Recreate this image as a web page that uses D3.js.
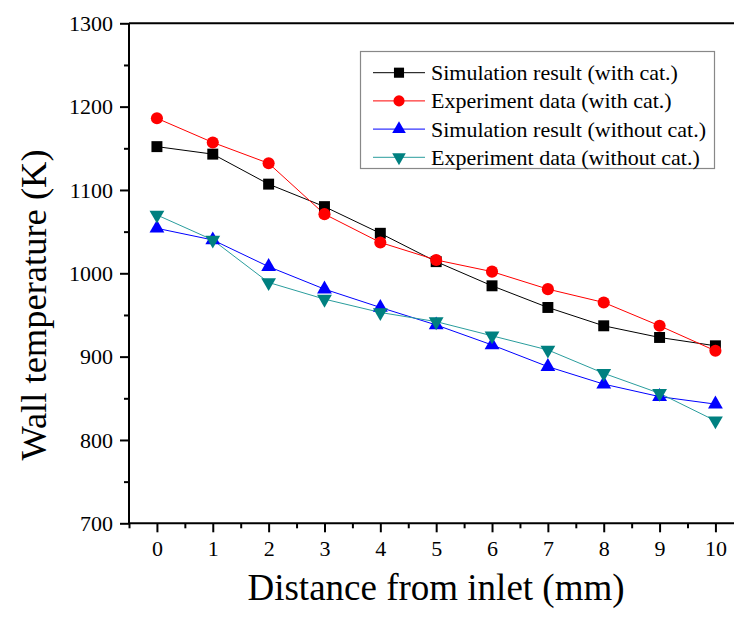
<!DOCTYPE html>
<html>
<head>
<meta charset="utf-8">
<script src="https://cdn.jsdelivr.net/npm/d3@7"></script>
<style>
  html, body { margin: 0; padding: 0; background: #fff; }
  svg { display: block; }
  svg text { font-family: "Liberation Serif", "Times New Roman", serif; fill: #000; }
</style>
</head>
<body>
<svg id="chart" width="734" height="619"></svg>
<script>
// Distance from inlet (mm)
const distances = [0, 1, 2, 3, 4, 5, 6, 7, 8, 9, 10];

// Wall temperature (K) for each series
const simWithCat    = [1152, 1143, 1107, 1080, 1048, 1014, 985, 959, 937, 923, 913];
const expWithCat    = [1186, 1157, 1132, 1071, 1037, 1016, 1002, 981, 965, 937, 907];
const simWithoutCat = [1054, 1040, 1008, 981, 959, 938, 914, 888, 867, 852, 843];
const expWithoutCat = [1070, 1040, 989, 969, 953, 942, 925, 908, 880, 856, 823];

const seriesNames = [
  "Simulation result (with cat.)",
  "Experiment data (with cat.)",
  "Simulation result (without cat.)",
  "Experiment data (without cat.)"
];

const yTicks = [700, 800, 900, 1000, 1100, 1200, 1300];
const yMinorTicks = [750, 850, 950, 1050, 1150, 1250];
const xMinorTicks = [-0.5, 0.5, 1.5, 2.5, 3.5, 4.5, 5.5, 6.5, 7.5, 8.5, 9.5, 10.5];

const series = [
  { name: seriesNames[0], values: simWithCat,    color: "#000000", line: "#000000", symbol: d3.symbolSquare,   size: 120 },
  { name: seriesNames[1], values: expWithCat,    color: "#ff0000", line: "#ff0000", symbol: d3.symbolCircle,   size: 115 },
  { name: seriesNames[2], values: simWithoutCat, color: "#0000ff", line: "#0000ff", symbol: d3.symbolTriangle, size: 95 },
  { name: seriesNames[3], values: expWithoutCat, color: "#008080", line: "#2a9d9d", symbol: d3.symbolTriangle, size: 95, flip: true }
];

const svg = d3.select("#chart");
const plotLeft = 129, plotTop = 23.3, plotBottom = 523.3;
const unit = 55.85;

const x = d3.scaleLinear().domain([-0.5, 10.5]).range([plotLeft, plotLeft + 11 * unit]);
const y = d3.scaleLinear().domain([700, 1300]).range([plotBottom, plotTop]);

// frame (top and right edges)
svg.append("path")
  .attr("d", `M${x(-0.5)},${y(1300)}H${x(10.5)}V${y(700)}`)
  .attr("fill", "none").attr("stroke", "#000").attr("stroke-width", 2);

// x axis
const xAxis = d3.axisBottom(x).tickValues(distances).tickSize(9).tickPadding(8).tickFormat(d3.format("d"));
const gx = svg.append("g").attr("transform", `translate(0,${plotBottom})`).call(xAxis);
gx.attr("font-family", null).attr("font-size", null);
gx.selectAll(".tick line").attr("stroke-width", 2);
gx.select(".domain").attr("stroke-width", 2).attr("d", `M${x(-0.5)},0H${x(10.5)}`);
gx.selectAll(".tick text").style("font-size", "22px");
svg.append("g").attr("transform", `translate(0,${plotBottom})`)
  .call(d3.axisBottom(x).tickValues(xMinorTicks).tickSize(5).tickFormat(""))
  .call(g => g.select(".domain").remove())
  .selectAll("line").attr("stroke-width", 2);

// y axis
const yAxis = d3.axisLeft(y).tickValues(yTicks).tickSize(9).tickPadding(7).tickFormat(d3.format("d"));
const gy = svg.append("g").attr("transform", `translate(${plotLeft},0)`).call(yAxis);
gy.attr("font-family", null).attr("font-size", null);
gy.selectAll(".tick line").attr("stroke-width", 2);
gy.select(".domain").attr("stroke-width", 2).attr("d", `M0,${plotBottom}V${plotTop}`);
gy.selectAll(".tick text").style("font-size", "22px");
svg.append("g").attr("transform", `translate(${plotLeft},0)`)
  .call(d3.axisLeft(y).tickValues(yMinorTicks).tickSize(5).tickFormat(""))
  .call(g => g.select(".domain").remove())
  .selectAll("line").attr("stroke-width", 2);

// axis titles
svg.append("text")
  .attr("x", 436).attr("y", 600)
  .attr("text-anchor", "middle")
  .style("font-size", "37px")
  .text("Distance from inlet (mm)");

svg.append("text")
  .attr("transform", `translate(46,305) rotate(-90)`)
  .attr("text-anchor", "middle")
  .style("font-size", "36.5px")
  .text("Wall temperature (K)");

// series lines and markers
const line = d3.line().x((d, i) => x(distances[i])).y(d => y(d));
series.forEach(s => {
  svg.append("path")
    .datum(s.values)
    .attr("d", line)
    .attr("fill", "none")
    .attr("stroke", s.line)
    .attr("stroke-width", 1);
});
series.forEach(s => {
  const sym = d3.symbol().type(s.symbol).size(s.size);
  svg.append("g").selectAll("path")
    .data(s.values)
    .join("path")
    .attr("d", sym)
    .attr("transform", (d, i) => `translate(${x(distances[i])},${y(d)})${s.flip ? " rotate(180)" : ""}`)
    .attr("fill", s.color);
});

// legend
const lg = svg.append("g");
lg.append("rect")
  .attr("x", 360.5).attr("y", 51.5).attr("width", 354).attr("height", 117)
  .attr("fill", "#fff").attr("stroke", "#888").attr("stroke-width", 1.2);
series.forEach((s, i) => {
  const cy = 72.7 + i * 28.2;
  lg.append("line")
    .attr("x1", 373).attr("x2", 425).attr("y1", cy).attr("y2", cy)
    .attr("stroke", s.line).attr("stroke-width", 1);
  lg.append("path")
    .attr("d", d3.symbol().type(s.symbol).size(s.size * 0.85))
    .attr("transform", `translate(399,${cy})${s.flip ? " rotate(180)" : ""}`)
    .attr("fill", s.color);
  lg.append("text")
    .attr("x", 431).attr("y", cy + 7.5)
    .style("font-size", "22px")
    .text(s.name);
});
</script>
</body>
</html>
